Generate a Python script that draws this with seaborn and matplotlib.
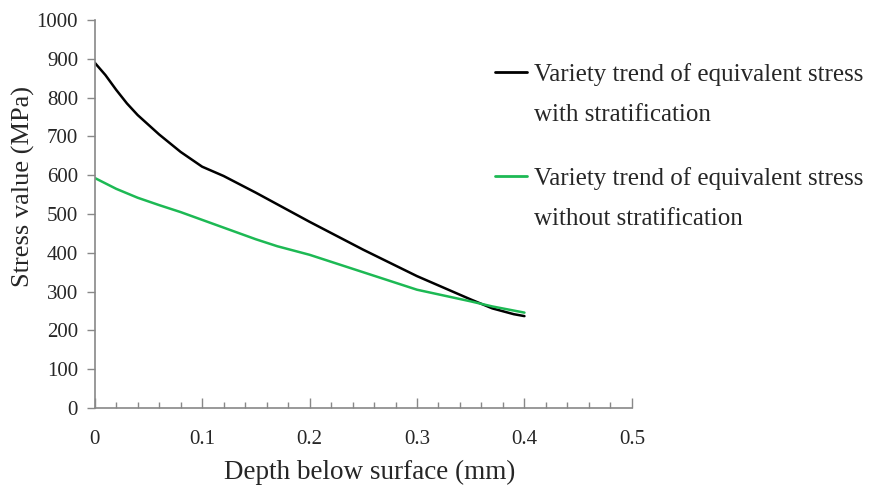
import numpy as np
import pandas as pd
import matplotlib
matplotlib.use("Agg")
import matplotlib.pyplot as plt
from matplotlib.ticker import MultipleLocator
import seaborn as sns

depth_with = [0.0, 0.01, 0.02, 0.03, 0.04, 0.06, 0.08, 0.10, 0.12, 0.15, 0.20, 0.25, 0.30, 0.35, 0.37, 0.39, 0.40]
stress_with = [890, 858, 820, 785, 755, 705, 660, 622, 598, 555, 480, 408, 340, 280, 257, 242, 237]

depth_without = [0.0, 0.02, 0.04, 0.06, 0.08, 0.10, 0.12, 0.15, 0.17, 0.20, 0.25, 0.30, 0.35, 0.37, 0.40]
stress_without = [593, 565, 542, 523, 505, 485, 465, 435, 417, 395, 350, 305, 275, 262, 246]

label_with = "Variety trend of equivalent stress"
label_without = "Variety trend of equivalent stress "
second_line_with = "with stratification"
second_line_without = "without stratification"

df = pd.concat([
    pd.DataFrame({"depth": depth_with, "stress": stress_with, "series": label_with}),
    pd.DataFrame({"depth": depth_without, "stress": stress_without, "series": label_without}),
])

sns.set_theme(style="white")
plt.rcParams["font.family"] = ["Liberation Serif", "DejaVu Serif"]

fig = plt.figure(figsize=(8.85, 4.87), dpi=100)
ax = fig.add_axes([0.107, 0.162, 0.607, 0.797])

sns.lineplot(data=df, x="depth", y="stress", hue="series", sort=False,
             palette={label_with: "#000000", label_without: "#1db954"},
             linewidth=1.8, ax=ax, legend=True)

ax.set_xlim(0, 0.5)
ax.set_ylim(0, 1000)
ax.xaxis.set_minor_locator(MultipleLocator(0.02))
ax.yaxis.set_major_locator(MultipleLocator(100))
ax.set_xticks([0, 0.1, 0.2, 0.3, 0.4, 0.5])
ax.set_xticklabels(["0", "0.1", "0.2", "0.3", "0.4", "0.5"])

for s in ["top", "right"]:
    ax.spines[s].set_visible(False)
for s in ["left", "bottom"]:
    ax.spines[s].set_color("#888888")
    ax.spines[s].set_linewidth(1.2)

ax.tick_params(axis="x", which="major", direction="in", length=7, width=1, color="#888888",
               labelsize=15, pad=16, bottom=True)
ax.tick_params(axis="x", which="minor", direction="in", length=4, width=1, color="#888888", bottom=True)
ax.tick_params(axis="y", which="major", direction="out", length=6, width=1, color="#888888",
               labelsize=15, pad=6, left=True)

ax.set_xlabel("Depth below surface (mm)", fontsize=19.5)
ax.set_ylabel("Stress value (MPa)", fontsize=19)
ax.yaxis.set_label_coords(-0.112, 0.57)
ax.xaxis.set_label_coords(0.512, -0.134)

handles, labels = ax.get_legend_handles_labels()
ax.legend(handles, labels, loc="upper left", bbox_to_anchor=(0.545, 0.897),
          bbox_transform=fig.transFigure, frameon=False, fontsize=18,
          handlelength=1.3, handletextpad=0.25, labelspacing=3.25, borderpad=0)
leg = ax.get_legend()
for line in leg.get_lines():
    line.set_linewidth(2)

fig.canvas.draw()
texts = leg.get_texts()
inv = fig.transFigure.inverted()
for t, second in zip(texts, [second_line_with, second_line_without]):
    bb = t.get_window_extent()
    x0, y0 = inv.transform((bb.x0, bb.y0))
    fig.text(x0, y0 - 0.082, second, fontsize=18, ha="left", va="bottom",
             family=["Liberation Serif", "DejaVu Serif"])

fig.savefig("out.png", dpi=100)
